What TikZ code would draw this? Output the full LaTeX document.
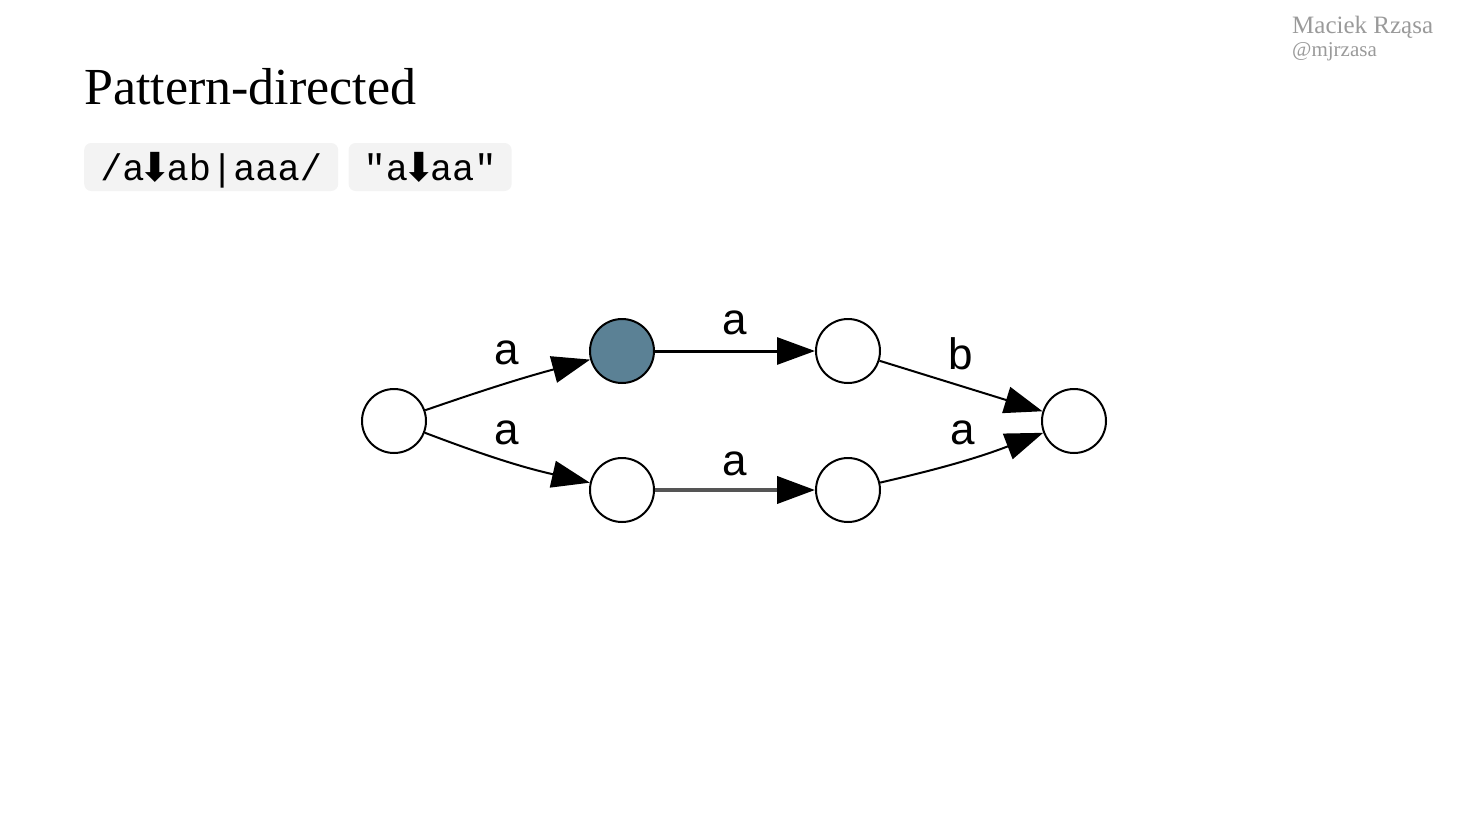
\documentclass[tikz,border=0pt]{standalone}
\usepackage{fontspec}
\setmainfont{Liberation Serif}
\setsansfont{Liberation Sans}
\setmonofont{Liberation Mono}
\newfontfamily\symfont{DejaVu Sans}
\usetikzlibrary{positioning, arrows.meta}
\definecolor{codebg}{HTML}{F3F3F3}
\definecolor{visited}{HTML}{5B8195}
\definecolor{authorgray}{HTML}{9A9A9A}
\definecolor{edgegray}{HTML}{555555}
\tikzstyle{state} = [circle, draw, line width=2pt, minimum size=64pt, inner sep=0pt, fill=white]
\tikzstyle{arrow} = [line width=2pt, -{Triangle[length=38pt,width=27pt,black]}]
\tikzstyle{lbl} = [font=\sffamily\fontsize{44}{44}\selectfont, inner sep=0pt]
\tikzstyle{codebox} = [fill=codebg, rounded corners=7pt, minimum height=48pt, inner sep=0pt,
  text height=31pt, text depth=4pt, font=\ttfamily\fontsize{37}{37}\selectfont]
\newcommand{\downarr}{\makebox[22pt]{\symfont\fontsize{40}{40}\selectfont\raisebox{-1pt}{⬇}}}

\begin{document}
\begin{tikzpicture}[x=1pt, y=-1pt]
  \useasboundingbox (0,0) rectangle (1470,828);

  % Header
  \node[anchor=base west, inner sep=0pt, font=\fontsize{52}{52}\selectfont] (title) at (84,104) {Pattern-directed};
  \node[anchor=base west, inner sep=0pt, text=authorgray, font=\fontsize{25}{25}\selectfont] (author) at (1292,33) {Maciek Rząsa};
  \node[anchor=base west, inner sep=0pt, text=authorgray, font=\fontsize{21}{21}\selectfont] (handle) at (1292,56) {@mjrzasa};

  % Pattern and input
  \node[codebox, anchor=west, minimum width=254pt] (regex) at (84,167) {/a\downarr ab|aaa/};
  \node[codebox, right=10pt of regex, minimum width=163pt] (input) {"a\downarr aa"};

  % Automaton
  \node[state] (q0) at (394,421) {};
  \node[state, fill=visited] (q1) at (622,351) {};
  \node[state] (q2) at (848,351) {};
  \node[state] (q3) at (1074,421) {};
  \node[state] (q4) at (622,490) {};
  \node[state] (q5) at (848,490) {};

  \draw[arrow] (q0) to[bend left=2] node[lbl, above=17pt] {a} (q1);
  \draw[arrow] (q0) to[bend right=4] node[lbl, above=15pt] {a} (q4);
  \draw[arrow, line width=3pt] (q1) -- node[lbl, above=15pt] {a} (q2);
  \draw[arrow, line width=4pt, edgegray] (q4) -- node[lbl, above=12pt, text=black] {a} (q5);
  \draw[arrow] (q2) -- node[lbl, above=15pt] {b} (q3);
  \draw[arrow] (q5) to[bend right=4] node[lbl, above=15pt] {a} (q3);
\end{tikzpicture}
\end{document}
